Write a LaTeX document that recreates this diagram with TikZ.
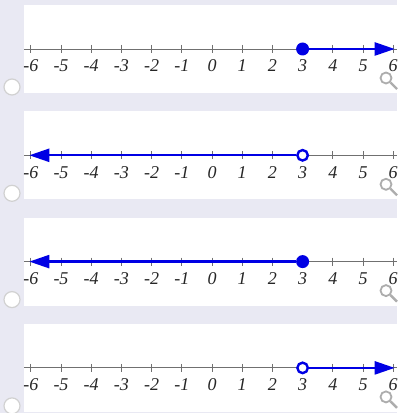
\documentclass[tikz,border=0pt]{standalone}
\usepackage{fontspec}
\setmainfont{Liberation Serif}
\usetikzlibrary{arrows.meta}
\definecolor{bgL}{RGB}{233,233,243}
\definecolor{rayB}{RGB}{0,0,228}
\definecolor{axG}{RGB}{112,112,112}

\begin{document}
\begin{tikzpicture}[x=1pt,y=1pt,
  panel/.style={fill=white,draw=none,minimum width=373pt,minimum height=88pt,inner sep=0pt,anchor=north west},
  axis/.style={draw=axG,line width=0.9pt},
  tickmark/.style={draw=axG,line width=0.7pt},
  num/.style={font=\fontsize{18}{18}\selectfont\itshape,inner sep=0pt,text=black!85},
  ray/.style={draw=rayB,line width=2.4pt,-{Triangle[length=20pt,width=13pt]}},
  dotfull/.style={circle,fill=rayB,minimum size=13pt,inner sep=0pt},
  dotopen/.style={circle,fill=white,draw=rayB,line width=2.4pt,minimum size=10.5pt,inner sep=0pt},
  radio/.style={circle,fill=white,draw=black!18,line width=1.2pt,minimum size=16pt,inner sep=0pt},
  lens/.style={circle,draw=black!32,line width=1.8pt,minimum size=11pt,inner sep=0pt}]
\useasboundingbox (0,0) rectangle (397,413);
\fill[bgL] (0,0) rectangle (397,413);
% four answer choices
\foreach \k/\dt/\dir in {0/dotfull/1,1/dotopen/-1,2/dotfull/-1,3/dotopen/1}{
  \pgfmathsetmacro\tp{408-106.3*\k}
  \node[panel] (box\k) at (24,\tp) {};
  \coordinate (axL\k) at (24,\tp-44);
  \coordinate (axR\k) at (397,\tp-44);
  \draw[axis] (axL\k) -- (axR\k);
  \foreach \n in {-6,...,6}{
    \draw[tickmark] (212+30.2*\n,\tp-40) -- ++(0,-8);
    \node[num] (lab\k\n) at (212+30.2*\n,\tp-61) {\n};
  }
  \coordinate (end\k) at (212+\dir*6.05*30.2,\tp-44);
  \node[\dt] (pt\k) at (212+3*30.2,\tp-44) {};
  \draw[ray] (pt\k) -- (end\k);
  \node[radio] (opt\k) at (12,\tp-82) {};
  \node[lens] (lens\k) at (386,\tp-73) {};
  \coordinate (hand\k) at (397,\tp-84);
  \draw[draw=black!32,line width=2.4pt] (lens\k.south east) -- (hand\k);
}
\end{tikzpicture}
\end{document}
